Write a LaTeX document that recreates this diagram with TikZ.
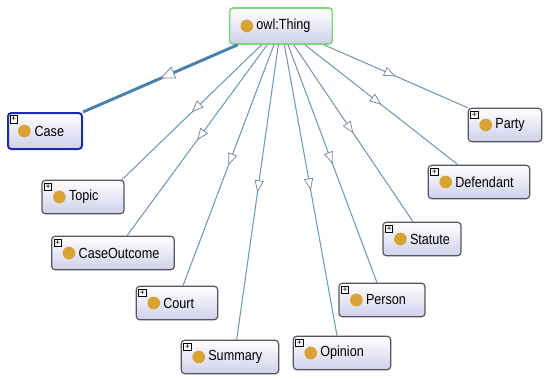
\documentclass[tikz,border=0pt]{standalone}
\usepackage{fontspec}
\setmainfont{Liberation Sans}
\newfontfamily\owlfont[FakeStretch=0.86]{Liberation Sans}
\usetikzlibrary{arrows.meta,decorations.markings}
\definecolor{owlEdge}{HTML}{7399B5}
\definecolor{owlEdgeSel}{HTML}{4A80AE}
\definecolor{owlTip}{HTML}{7F8C98}
\definecolor{owlGold}{HTML}{D8A235}
\definecolor{owlBorder}{HTML}{55555F}
\definecolor{owlLav}{HTML}{D0D0EC}
\definecolor{owlGreen}{HTML}{7ED67E}
\definecolor{owlBlue}{HTML}{1F2AA8}

\begin{document}
\begin{tikzpicture}[x=0.75pt, y=-0.75pt,
  every node/.style={font=\owlfont\fontsize{11}{13}\selectfont},
  classbox/.style={rectangle, rounded corners=2.5pt, draw=owlBorder,
    line width=0.9pt, top color=white, bottom color=owlLav,
    minimum height=25pt, inner sep=0pt},
  ball/.style={circle, fill=owlGold, minimum size=9.5pt, inner sep=0pt},
  plusbox/.style={rectangle, draw=black, fill=white, line width=0.4pt,
    minimum size=5.5pt, inner sep=0pt, font=\fontsize{6.5}{6.5}\selectfont},
  classtext/.style={anchor=west, inner sep=0pt},
  isa/.style={draw=owlEdge, line width=0.8pt, postaction={decorate},
    decoration={markings, mark=at position 0.5 with
      {\arrow{Triangle[fill=white, color=owlTip, length=9pt, width=7pt, line width=0.6pt]}}}},
  isasel/.style={draw=owlEdgeSel, line width=2.2pt, postaction={decorate},
    decoration={markings, mark=at position 0.5 with
      {\arrow{Triangle[fill=white, color=owlTip, length=11pt, width=9.5pt, line width=0.6pt]}}}},
]
\useasboundingbox (0,0) rectangle (550,379);

% ======= Root =======
\node[classbox, draw=owlGreen, line width=1.2pt, minimum width=77pt, minimum height=27pt] (thing) at (281,26) {};
\node[ball] (thingball) at ([xshift=13.5pt]thing.west) {};
\node[classtext] (thingtext) at ([xshift=20.5pt]thing.west) {owl:Thing};

% ======= Left subclasses =======
\node[classbox, draw=owlBlue, line width=1.5pt, minimum width=55.5pt, minimum height=27pt] (case) at (45,131) {};
\node[ball] (caseball) at ([xshift=13pt]case.west) {};
\node[classtext] (casetext) at ([xshift=20.5pt]case.west) {Case};
\node[plusbox] (caseplus) at ([xshift=5pt,yshift=-5.5pt]case.north west) {+};

\node[classbox, minimum width=61.5pt] (topic) at (83,197) {};
\node[ball] (topicball) at ([xshift=13.5pt]topic.west) {};
\node[classtext] (topictext) at ([xshift=20.5pt]topic.west) {Topic};
\node[plusbox] (topicplus) at ([xshift=5pt,yshift=-5.5pt]topic.north west) {+};

\node[classbox, minimum width=92pt] (caseoutcome) at (113,253) {};
\node[ball] (caseoutcomeball) at ([xshift=13.5pt]caseoutcome.west) {};
\node[classtext] (caseoutcometext) at ([xshift=20.5pt]caseoutcome.west) {CaseOutcome};
\node[plusbox] (caseoutcomeplus) at ([xshift=5pt,yshift=-5.5pt]caseoutcome.north west) {+};

\node[classbox, minimum width=61pt] (court) at (177,303) {};
\node[ball] (courtball) at ([xshift=13.5pt]court.west) {};
\node[classtext] (courttext) at ([xshift=20.5pt]court.west) {Court};
\node[plusbox] (courtplus) at ([xshift=5pt,yshift=-5.5pt]court.north west) {+};

\node[classbox, minimum width=73pt] (summary) at (230,357) {};
\node[ball] (summaryball) at ([xshift=13.5pt]summary.west) {};
\node[classtext] (summarytext) at ([xshift=20.5pt]summary.west) {Summary};
\node[plusbox] (summaryplus) at ([xshift=5pt,yshift=-5.5pt]summary.north west) {+};

% ======= Right subclasses =======
\node[classbox, minimum width=73pt] (opinion) at (342,353) {};
\node[ball] (opinionball) at ([xshift=13.5pt]opinion.west) {};
\node[classtext] (opiniontext) at ([xshift=20.5pt]opinion.west) {Opinion};
\node[plusbox] (opinionplus) at ([xshift=5pt,yshift=-5.5pt]opinion.north west) {+};

\node[classbox, minimum width=64.5pt] (person) at (382,300) {};
\node[ball] (personball) at ([xshift=13.5pt]person.west) {};
\node[classtext] (persontext) at ([xshift=20.5pt]person.west) {Person};
\node[plusbox] (personplus) at ([xshift=5pt,yshift=-5.5pt]person.north west) {+};

\node[classbox, minimum width=58.5pt] (statute) at (422,239) {};
\node[ball] (statuteball) at ([xshift=13.5pt]statute.west) {};
\node[classtext] (statutetext) at ([xshift=20.5pt]statute.west) {Statute};
\node[plusbox] (statuteplus) at ([xshift=5pt,yshift=-5.5pt]statute.north west) {+};

\node[classbox, minimum width=76pt] (defendant) at (479,182) {};
\node[ball] (defendantball) at ([xshift=13.5pt]defendant.west) {};
\node[classtext] (defendanttext) at ([xshift=20.5pt]defendant.west) {Defendant};
\node[plusbox] (defendantplus) at ([xshift=5pt,yshift=-5.5pt]defendant.north west) {+};

\node[classbox, minimum width=55pt] (party) at (505,125) {};
\node[ball] (partyball) at ([xshift=13.5pt]party.west) {};
\node[classtext] (partytext) at ([xshift=20.5pt]party.west) {Party};
\node[plusbox] (partyplus) at ([xshift=5pt,yshift=-5.5pt]party.north west) {+};

% ======= Subclass edges =======
\draw[isasel] (thing) -- (case.north east);
\draw[isa] (thing) -- ([xshift=-2pt]topic.north east);
\draw[isa] (thing) -- ([xshift=10.5pt]caseoutcome.north);
\draw[isa] (thing) -- ([xshift=4.5pt]court.north);
\draw[isa] (thing) -- ([xshift=5pt]summary.north);
\draw[isa] (thing) -- ([xshift=-3.75pt]opinion.north);
\draw[isa] (thing) -- ([xshift=-3.75pt]person.north);
\draw[isa] (thing) -- ([xshift=-6.75pt]statute.north);
\draw[isa] (thing) -- ([xshift=-15.75pt]defendant.north);
\draw[isa] (thing) -- (party.north west);

\end{tikzpicture}
\end{document}
